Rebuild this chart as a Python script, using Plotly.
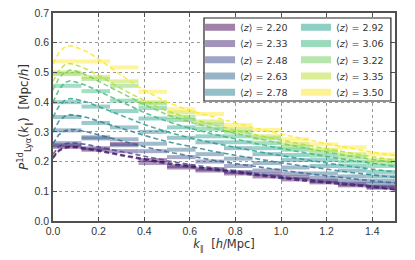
import plotly.graph_objects as go

# ---------------- data ----------------
redshifts = ["2.20", "2.33", "2.48", "2.63", "2.78", "2.92", "3.06", "3.22", "3.35", "3.50"]
colors = ["#440154", "#482878", "#3e4989", "#31688e", "#26828e",
          "#1f9e89", "#35b779", "#6ece58", "#b5de2b", "#fde725"]

k_edges = [0.0, 0.125, 0.25, 0.375, 0.5, 0.625, 0.75, 0.875, 1.0, 1.125, 1.25, 1.375, 1.5]

p_data = {
    "2.20": [0.250, 0.240, 0.259, 0.205, 0.180, 0.170, 0.160, 0.150, 0.140, 0.130, 0.120, 0.112],
    "2.33": [0.255, 0.245, 0.235, 0.195, 0.185, 0.175, 0.165, 0.158, 0.148, 0.135, 0.125, 0.115],
    "2.48": [0.262, 0.278, 0.255, 0.235, 0.215, 0.200, 0.185, 0.170, 0.160, 0.145, 0.135, 0.125],
    "2.63": [0.305, 0.282, 0.275, 0.260, 0.240, 0.225, 0.210, 0.195, 0.180, 0.160, 0.150, 0.135],
    "2.78": [0.350, 0.330, 0.315, 0.300, 0.280, 0.265, 0.245, 0.225, 0.205, 0.185, 0.170, 0.150],
    "2.92": [0.400, 0.385, 0.370, 0.345, 0.315, 0.285, 0.265, 0.245, 0.222, 0.205, 0.185, 0.165],
    "3.06": [0.455, 0.437, 0.405, 0.380, 0.340, 0.310, 0.285, 0.262, 0.240, 0.220, 0.200, 0.185],
    "3.22": [0.495, 0.478, 0.455, 0.395, 0.350, 0.325, 0.300, 0.278, 0.250, 0.232, 0.215, 0.198],
    "3.35": [0.500, 0.485, 0.470, 0.400, 0.365, 0.335, 0.310, 0.285, 0.260, 0.240, 0.225, 0.205],
    "3.50": [0.537, 0.537, 0.517, 0.435, 0.376, 0.360, 0.323, 0.306, 0.275, 0.258, 0.248, 0.224],
}

k_model = [0.0, 0.025, 0.05, 0.075, 0.1, 0.15, 0.2, 0.3, 0.4, 0.5,
           0.6, 0.7, 0.8, 0.9, 1.0, 1.1, 1.2, 1.3, 1.4, 1.5]

p_model = {
    "2.20": [0.215, 0.238, 0.248, 0.251, 0.250, 0.245, 0.238, 0.223, 0.209, 0.196, 0.185, 0.175, 0.165, 0.156, 0.147, 0.139, 0.131, 0.124, 0.117, 0.104],
    "2.33": [0.210, 0.235, 0.245, 0.248, 0.247, 0.242, 0.235, 0.220, 0.205, 0.192, 0.181, 0.171, 0.161, 0.152, 0.143, 0.135, 0.127, 0.120, 0.113, 0.107],
    "2.48": [0.225, 0.250, 0.260, 0.263, 0.262, 0.257, 0.249, 0.233, 0.217, 0.203, 0.190, 0.179, 0.169, 0.159, 0.150, 0.141, 0.133, 0.125, 0.118, 0.112],
    "2.63": [0.260, 0.290, 0.303, 0.308, 0.307, 0.300, 0.290, 0.270, 0.250, 0.233, 0.218, 0.205, 0.193, 0.182, 0.171, 0.161, 0.152, 0.143, 0.135, 0.128],
    "2.78": [0.300, 0.335, 0.352, 0.358, 0.356, 0.348, 0.336, 0.312, 0.288, 0.267, 0.250, 0.235, 0.221, 0.208, 0.196, 0.185, 0.174, 0.164, 0.155, 0.147],
    "2.92": [0.350, 0.385, 0.405, 0.412, 0.410, 0.400, 0.385, 0.355, 0.325, 0.300, 0.280, 0.263, 0.247, 0.233, 0.220, 0.207, 0.195, 0.184, 0.174, 0.165],
    "3.06": [0.400, 0.440, 0.465, 0.472, 0.468, 0.455, 0.437, 0.400, 0.365, 0.335, 0.312, 0.293, 0.275, 0.259, 0.244, 0.230, 0.217, 0.205, 0.194, 0.184],
    "3.22": [0.440, 0.480, 0.500, 0.508, 0.505, 0.490, 0.470, 0.430, 0.392, 0.358, 0.333, 0.313, 0.294, 0.277, 0.261, 0.246, 0.232, 0.219, 0.207, 0.196],
    "3.35": [0.470, 0.505, 0.525, 0.530, 0.525, 0.510, 0.490, 0.445, 0.405, 0.370, 0.345, 0.325, 0.305, 0.288, 0.272, 0.257, 0.243, 0.229, 0.216, 0.205],
    "3.50": [0.530, 0.565, 0.585, 0.590, 0.585, 0.570, 0.545, 0.490, 0.440, 0.400, 0.372, 0.350, 0.330, 0.310, 0.292, 0.276, 0.260, 0.245, 0.232, 0.220],
}

x_ticks = [0.0, 0.2, 0.4, 0.6, 0.8, 1.0, 1.2, 1.4]
y_ticks = [0.0, 0.1, 0.2, 0.3, 0.4, 0.5, 0.6, 0.7]


def rgba(hexc, a):
    h = hexc.lstrip("#")
    r, g, b = int(h[0:2], 16), int(h[2:4], 16), int(h[4:6], 16)
    return f"rgba({r},{g},{b},{a})"


fig = go.Figure()

# binned data: horizontal bars
for z, c in zip(redshifts, colors):
    xs, ys = [], []
    for i, v in enumerate(p_data[z]):
        xs += [k_edges[i], k_edges[i + 1], None]
        ys += [v, v, None]
    fig.add_trace(go.Scatter(x=xs, y=ys, mode="lines",
                             line=dict(color=rgba(c, 0.45), width=4),
                             showlegend=False, hoverinfo="skip"))

# model: dashed curves
for z, c in zip(redshifts, colors):
    fig.add_trace(go.Scatter(x=k_model, y=p_model[z], mode="lines",
                             line=dict(color=rgba(c, 0.8), width=1.6, dash="5px,3px"),
                             showlegend=False, hoverinfo="skip"))

# legend: one small legend per entry, laid out as two columns of five
leg_x = [0.43, 0.7105]
leg_y = [1.001, 0.9228, 0.8447, 0.7666, 0.6885]
legend_layout = {}
for j, (z, c) in enumerate(zip(redshifts, colors)):
    name = "legend" if j == 0 else f"legend{j + 1}"
    fig.add_trace(go.Scatter(x=[None], y=[None], mode="lines",
                             line=dict(color=rgba(c, 0.5), width=7),
                             name=f"⟨<i>z</i>⟩ = {z}", legend=name))
    legend_layout[name] = dict(x=leg_x[j // 5], y=leg_y[j % 5], xanchor="left", yanchor="top",
                               bgcolor="rgba(0,0,0,0)", font=dict(size=9.5), itemwidth=30)

axis_common = dict(showline=True, linecolor="#505050", linewidth=1.5, mirror="allticks",
                   ticks="inside", ticklen=4, tickcolor="#505050",
                   showgrid=True, gridcolor="#999999", griddash="dot", gridwidth=1,
                   zeroline=False, automargin=False,
                   tickfont=dict(family="Liberation Sans", size=10.5, color="#333333"))

fig.update_layout(
    width=415, height=260,
    margin=dict(l=53, r=20, t=13, b=39),
    paper_bgcolor="white", plot_bgcolor="white",
    font=dict(family="DejaVu Sans", color="#333333"),
    xaxis=dict(range=[0, 1.5], tickvals=x_ticks, tickformat=".1f",
               title=dict(text="<i>k</i><sub>∥</sub>  [<i>h</i>/Mpc]", font=dict(size=11.5), standoff=3),
               **axis_common),
    yaxis=dict(range=[0, 0.7], tickvals=y_ticks, tickformat=".1f",
               title=dict(text="<i>P</i><sup>1d</sup><sub>Lyα</sub>(<i>k</i><sub>∥</sub>)  [Mpc/<i>h</i>]",
                          font=dict(size=12), standoff=3),
               **axis_common),
    shapes=[dict(type="rect", xref="paper", yref="paper", x0=0.4415, x1=0.988, y0=0.577, y1=0.976,
                 line=dict(color="#222222", width=1.2), fillcolor="white", layer="above")],
    **legend_layout,
)

fig.write_html("out.html", config={"displayModeBar": False},
               post_script="document.body.style.margin='0';")
